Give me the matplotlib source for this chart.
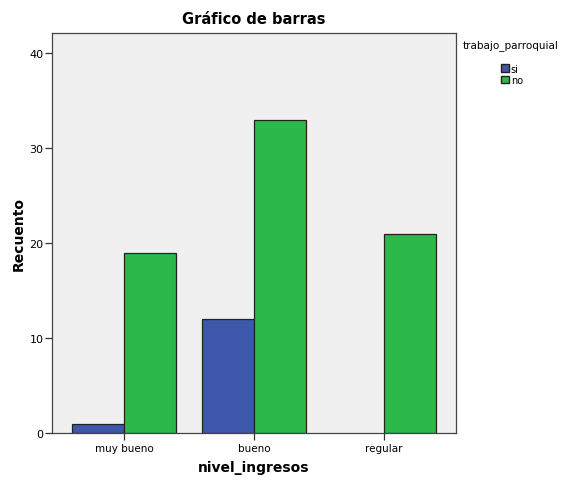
import numpy as np
import matplotlib.pyplot as plt
from matplotlib.patches import Patch

categorias = ['muy bueno', 'bueno', 'regular']
si = [1, 12, 0]
no = [19, 33, 21]
yticks = [0, 10, 20, 30, 40]

fig = plt.figure(figsize=(5.64, 4.81), dpi=100)
ax = fig.add_axes([0.0922, 0.0977, 0.7163, 0.8313])
ax.set_facecolor('#f0f0f0')

x = np.arange(len(categorias))
w = 0.4
# zero-height bars are not drawn in the reference
lw_si = [0.9 if v > 0 else 0 for v in si]
ax.bar(x - w / 2, si, w, color='#3d58ab', edgecolor='#222222', linewidth=lw_si)
ax.bar(x + w / 2, no, w, color='#2db84a', edgecolor='#222222', linewidth=0.9)

ax.set_xlim(-0.554, 2.554)
ax.set_ylim(0, 42.1)
ax.set_yticks(yticks)
ax.set_xticks(x)
ax.set_xticklabels(categorias, fontsize=7.5)
ax.tick_params(axis='y', labelsize=8, length=5, width=0.9, color='#333333', pad=1)
ax.tick_params(axis='x', length=5, width=0.9, color='#333333', pad=2)
for s in ax.spines.values():
    s.set_color('#444444')
    s.set_linewidth(0.9)

ax.set_xlabel('nivel_ingresos', fontsize=10, fontweight='bold', labelpad=5)
ax.set_ylabel('Recuento', fontsize=10, fontweight='bold', labelpad=3)
ax.set_title('Gráfico de barras', fontsize=10.5, fontweight='bold', pad=7)

fig.text(0.8195, 0.905, 'trabajo_parroquial', fontsize=7.5, ha='left', va='center')
handles = [Patch(facecolor='#3d58ab', edgecolor='#222222', label='si'),
           Patch(facecolor='#2db84a', edgecolor='#222222', label='no')]
leg = fig.legend(handles=handles, loc='upper left',
                 bbox_to_anchor=(0.878, 0.878), frameon=False, fontsize=7,
                 handlelength=0.8, handleheight=0.8,
                 handletextpad=0.2, labelspacing=0.15, borderpad=0.1)

fig.savefig('out.png', dpi=100)
